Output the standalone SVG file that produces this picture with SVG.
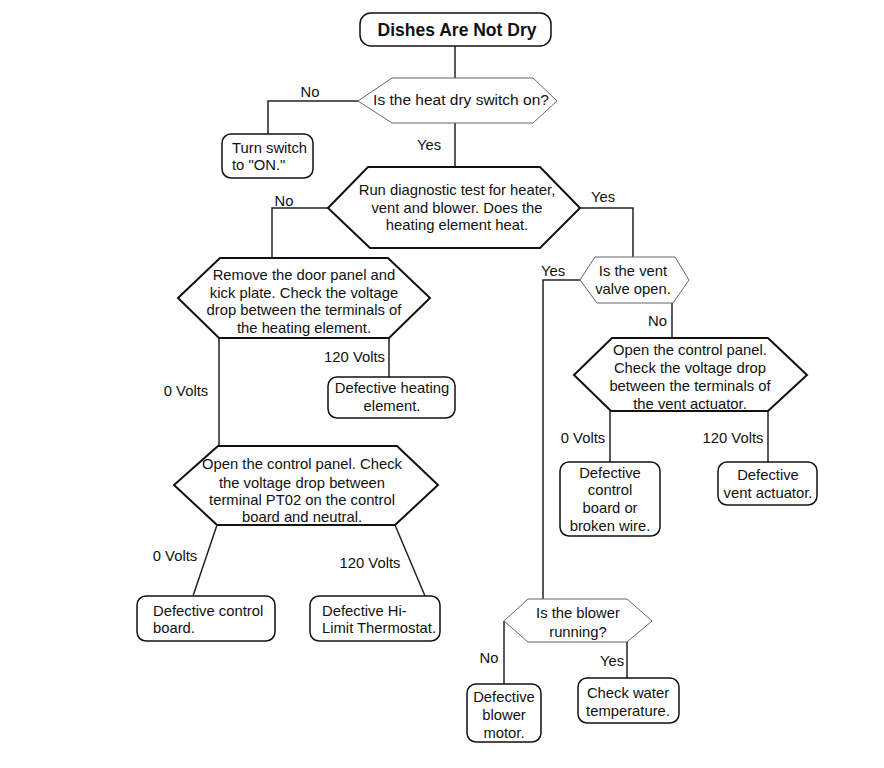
<svg xmlns="http://www.w3.org/2000/svg" width="884" height="768" viewBox="0 0 884 768">
<style>
.hx{fill:#fff;stroke:#111;stroke-width:2;stroke-linejoin:miter}
.hxl{fill:#fff;stroke:#666;stroke-width:1}
.bx{fill:#fff;stroke:#111;stroke-width:1.5}
.cn{fill:none;stroke:#222;stroke-width:1.5}
text{font-family:"Liberation Sans",Arial,sans-serif;font-size:14.8px;fill:#111}
.c{text-anchor:middle}
.e{text-anchor:end}
.t{font-size:17.5px;font-weight:bold}
</style>
<rect width="884" height="768" fill="#fff"/>
<g id="connectors">
<path class="cn" d="M455,46 V78"/>
<path class="cn" d="M358,101 H268 V134"/>
<path class="cn" d="M455,123 V167"/>
<path class="cn" d="M328,208 H272 V258"/>
<path class="cn" d="M580,208 H633 V257"/>
<path class="cn" d="M219,338 V446"/>
<path class="cn" d="M389,338 V377"/>
<path class="cn" d="M217,525 L193,596"/>
<path class="cn" d="M395,525 L425,596"/>
<path class="cn" d="M580,280 H543 V599"/>
<path class="cn" d="M672,303 V338"/>
<path class="cn" d="M610,411 V462"/>
<path class="cn" d="M768,411 V462"/>
<path class="cn" d="M504,621 V684"/>
<path class="cn" d="M627,642 V678"/>
<text x="310" y="97" class="c">No</text>
<text x="429" y="150" class="c">Yes</text>
<text x="284" y="206" class="c">No</text>
<text x="603" y="202" class="c">Yes</text>
<text x="186" y="396" class="c">0 Volts</text>
<text x="385" y="362" class="e">120 Volts</text>
<text x="175" y="561" class="c">0 Volts</text>
<text x="370" y="568" class="c">120 Volts</text>
<text x="553" y="276" class="c">Yes</text>
<text x="667" y="326" class="e">No</text>
<text x="583" y="443" class="c">0 Volts</text>
<text x="733" y="443" class="c">120 Volts</text>
<text x="489" y="663" class="c">No</text>
<text x="612" y="666" class="c">Yes</text>
</g>
<g id="n-title">
<rect class="bx" x="360" y="13" width="191" height="33" rx="11"/>
<text x="457" y="36" class="c t">Dishes Are Not Dry</text>
</g>
<g id="n-heatdry">
<polygon class="hxl" points="358,101 392,78 533,78 557,101 533,123 392,123"/>
<text x="461" y="105" class="c" style="font-size:15.5px">Is the heat dry switch on?</text>
</g>
<g id="n-turnswitch">
<rect class="bx" x="222" y="134" width="91" height="44" rx="9"/>
<text x="232" y="153">Turn switch</text>
<text x="232" y="170">to "ON."</text>
</g>
<g id="n-diag">
<polygon class="hx" points="328,208 368,167 540,167 580,208 540,248 370,248"/>
<text x="457" y="195" class="c">Run diagnostic test for heater,</text>
<text x="457" y="213" class="c">vent and blower. Does the</text>
<text x="457" y="230" class="c">heating element heat.</text>
</g>
<g id="n-door">
<polygon class="hx" points="178,298 220,258 388,258 430,298 389,338 219,338"/>
<text x="304" y="280" class="c">Remove the door panel and</text>
<text x="304" y="298" class="c">kick plate. Check the voltage</text>
<text x="304" y="315" class="c">drop between the terminals of</text>
<text x="304" y="333" class="c">the heating element.</text>
</g>
<g id="n-defheat">
<rect class="bx" x="328" y="377" width="127" height="41" rx="9"/>
<text x="392" y="393" class="c">Defective heating</text>
<text x="392" y="411" class="c">element.</text>
</g>
<g id="n-pt02">
<polygon class="hx" points="174,485 218,446 397,446 438,485 395,525 217,525"/>
<text x="302" y="469" class="c">Open the control panel. Check</text>
<text x="302" y="488" class="c">the voltage drop between</text>
<text x="302" y="505" class="c">terminal PT02 on the control</text>
<text x="302" y="522" class="c">board and neutral.</text>
</g>
<g id="n-defboard">
<rect class="bx" x="137" y="596" width="138" height="45" rx="9"/>
<text x="153" y="616">Defective control</text>
<text x="153" y="633">board.</text>
</g>
<g id="n-hilimit">
<rect class="bx" x="310" y="596" width="130" height="45" rx="9"/>
<text x="322" y="616">Defective Hi-</text>
<text x="322" y="633">Limit Thermostat.</text>
</g>
<g id="n-vent">
<polygon class="hxl" points="580,280 595,257 675,257 689,280 673,303 597,303"/>
<text x="633" y="276" class="c">Is the vent</text>
<text x="633" y="294" class="c">valve open.</text>
</g>
<g id="n-actuator">
<polygon class="hx" points="574,375 612,338 768,338 807,375 768,411 611,411"/>
<text x="690" y="355" class="c">Open the control panel.</text>
<text x="690" y="373" class="c">Check the voltage drop</text>
<text x="690" y="391" class="c">between the terminals of</text>
<text x="690" y="409" class="c">the vent actuator.</text>
</g>
<g id="n-defwire">
<rect class="bx" x="560" y="462" width="100" height="74" rx="9"/>
<text x="610" y="478" class="c">Defective</text>
<text x="610" y="495" class="c">control</text>
<text x="610" y="513" class="c">board or</text>
<text x="610" y="531" class="c">broken wire.</text>
</g>
<g id="n-defvent">
<rect class="bx" x="718" y="462" width="99" height="43" rx="9"/>
<text x="768" y="480" class="c">Defective</text>
<text x="768" y="498" class="c">vent actuator.</text>
</g>
<g id="n-blower">
<polygon class="hxl" points="504,621 528,599 627,599 652,621 627,642 528,642"/>
<text x="578" y="618" class="c">Is the blower</text>
<text x="578" y="637" class="c">running?</text>
</g>
<g id="n-defblower">
<rect class="bx" x="467" y="684" width="74" height="58" rx="9"/>
<text x="504" y="702" class="c">Defective</text>
<text x="504" y="720" class="c">blower</text>
<text x="504" y="738" class="c">motor.</text>
</g>
<g id="n-water">
<rect class="bx" x="578" y="678" width="101" height="45" rx="9"/>
<text x="628" y="698" class="c">Check water</text>
<text x="628" y="716" class="c">temperature.</text>
</g>
</svg>
